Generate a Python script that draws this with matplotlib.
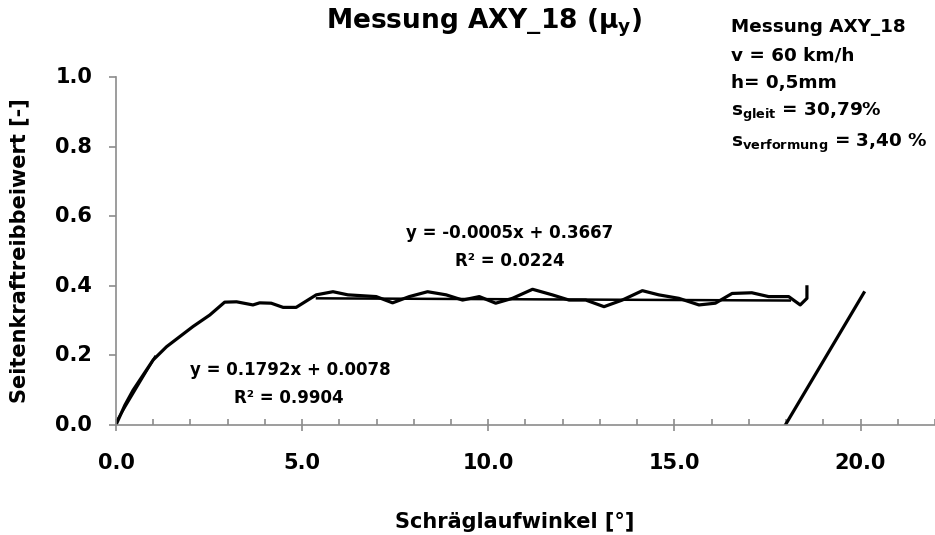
import matplotlib
matplotlib.use("Agg")
import matplotlib.pyplot as plt
import numpy as np
from matplotlib.ticker import MultipleLocator, NullFormatter

plt.rcParams['font.family'] = ['DejaVu Sans']
plt.rcParams['font.weight'] = 'bold'
plt.rcParams['mathtext.fontset'] = 'custom'
plt.rcParams['mathtext.rm'] = 'DejaVu Sans:bold'
plt.rcParams['mathtext.it'] = 'DejaVu Sans:bold'
plt.rcParams['mathtext.bf'] = 'DejaVu Sans:bold'
plt.rcParams['mathtext.default'] = 'regular'

# Measured side-force coefficient vs. slip angle
slip_angle = [0.0, 0.24, 0.46, 1.0, 1.36, 2.07, 2.52, 2.92, 3.24, 3.68, 3.86, 4.17,
              4.49, 4.84, 5.38, 5.83, 6.23, 6.99, 7.43, 7.88, 8.37, 8.87, 9.31,
              9.76, 10.2, 10.65, 11.19, 11.72, 12.17, 12.62, 13.11, 13.6, 14.14,
              14.58, 15.12, 15.66, 16.1, 16.55, 17.08, 17.53, 18.07, 18.38, 18.56,
              18.56]
mu_y = [0.0, 0.057, 0.10, 0.187, 0.225, 0.283, 0.316, 0.353, 0.354, 0.345, 0.351,
        0.35, 0.338, 0.338, 0.374, 0.383, 0.374, 0.369, 0.351, 0.369, 0.383,
        0.374, 0.359, 0.369, 0.350, 0.364, 0.39, 0.374, 0.359, 0.359, 0.34,
        0.359, 0.386, 0.374, 0.364, 0.345, 0.350, 0.378, 0.380, 0.369, 0.369,
        0.345, 0.364, 0.397]

# Return segment at the end of the run
return_x = [17.98, 20.09]
return_y = [0.0, 0.38]

# Linear trendlines (slope, intercept, x-range)
fit1_slope, fit1_icpt, fit1_range = 0.1792, 0.0078, (0.0, 1.05)
fit2_slope, fit2_icpt, fit2_range = -0.0005, 0.3667, (5.4, 18.1)

x_ticks = [0.0, 5.0, 10.0, 15.0, 20.0]
y_ticks = [0.0, 0.2, 0.4, 0.6, 0.8, 1.0]

fig = plt.figure(figsize=(9.35, 5.35), dpi=100)
ax = fig.add_axes([0.124, 0.2056, 0.876, 0.6505])

ax.plot(slip_angle, mu_y, color='black', lw=2.3, solid_joinstyle='round')
ax.plot(return_x, return_y, color='black', lw=2.3)
for s, c, (a, b) in [(fit1_slope, fit1_icpt, fit1_range), (fit2_slope, fit2_icpt, fit2_range)]:
    xs = np.array([a, b])
    ax.plot(xs, s * xs + c, color='black', lw=1.8)

ax.set_xlim(0, 22)
ax.set_ylim(0, 1.0)
ax.set_xticks(x_ticks)
ax.set_yticks(y_ticks)
ax.xaxis.set_minor_locator(MultipleLocator(1))
ax.xaxis.set_major_formatter(NullFormatter())
ax.yaxis.set_major_formatter(NullFormatter())

axis_gray = '#8c8c8c'
for side in ['top', 'right']:
    ax.spines[side].set_visible(False)
for side in ['left', 'bottom']:
    ax.spines[side].set_color(axis_gray)
    ax.spines[side].set_linewidth(1.2)
ax.tick_params(axis='x', which='major', direction='inout', length=9, width=1.2,
               color=axis_gray)
ax.tick_params(axis='x', which='minor', direction='in', length=4, width=1.2,
               color=axis_gray)
ax.tick_params(axis='y', which='major', direction='out', length=5, width=1.2,
               color=axis_gray)

# tick labels placed at fixed offsets from the axis lines
for v in x_ticks:
    ax.text(v, -0.109, f"{v:.1f}", transform=ax.get_xaxis_transform(),
            ha='center', va='center', fontsize=15, fontweight='bold')
for v in y_ticks:
    ax.text(-0.029, v, f"{v:.1f}", transform=ax.get_yaxis_transform(),
            ha='right', va='center', fontsize=15, fontweight='bold')

ax.set_xlabel('Schräglaufwinkel [°]', fontsize=15, fontweight='bold')
ax.set_ylabel('Seitenkraftreibbeiwert [-]', fontsize=15, fontweight='bold')
ax.xaxis.set_label_coords(0.487, -0.25)
ax.yaxis.set_label_coords(-0.106, 0.5)

fig.text(484 / 935, 1 - 23 / 535, r'Messung AXY_18 ($\mu_y$)', ha='center', va='center',
         fontsize=19, fontweight='bold')

info = ['Messung AXY_18', 'v = 60 km/h', 'h= 0,5mm',
        r's$_{gleit}$ = 30,79%', r's$_{verformung}$ = 3,40 %']
info_y = [27, 55, 83, 112, 143]
for t, py in zip(info, info_y):
    fig.text(731 / 935, 1 - py / 535, t, ha='left', va='center', fontsize=13.2,
             fontweight='bold')

fig.text(510 / 935, 1 - 233 / 535, f'y = {fit2_slope:.4f}x + {fit2_icpt:.4f}',
         ha='center', va='center', fontsize=12, fontweight='bold')
fig.text(510 / 935, 1 - 261 / 535, 'R² = 0.0224', ha='center', va='center',
         fontsize=12, fontweight='bold')
fig.text(290 / 935, 1 - 370 / 535, f'y = {fit1_slope:.4f}x + {fit1_icpt:.4f}',
         ha='center', va='center', fontsize=12, fontweight='bold')
fig.text(289 / 935, 1 - 398 / 535, 'R² = 0.9904', ha='center', va='center',
         fontsize=12, fontweight='bold')

fig.savefig('out.png', dpi=100)
